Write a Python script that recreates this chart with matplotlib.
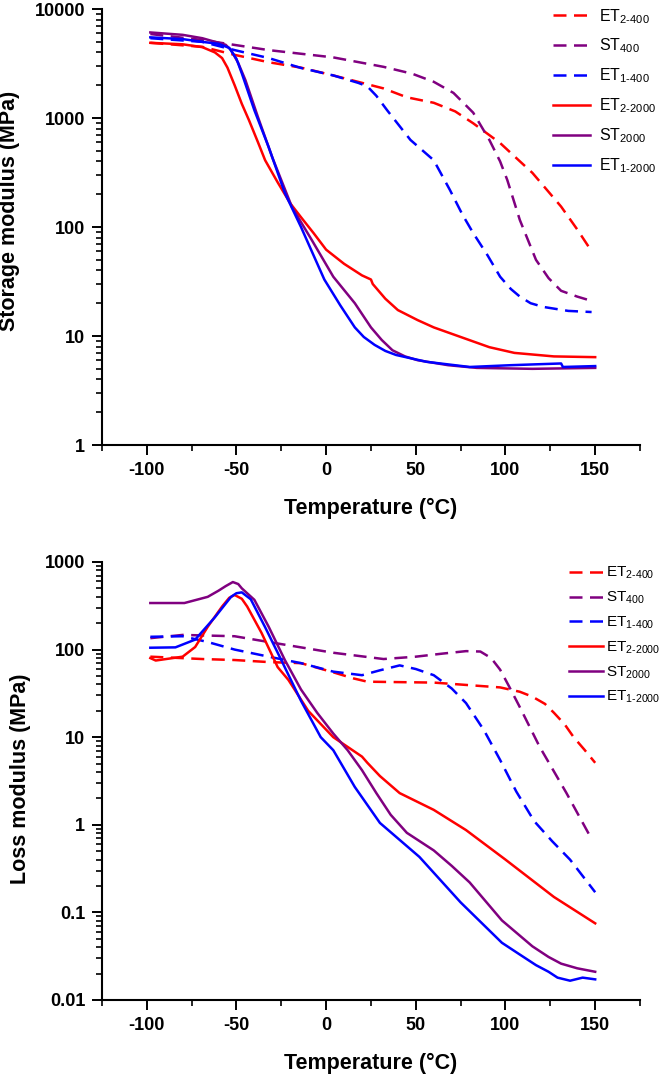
import matplotlib
matplotlib.use("Agg")
import matplotlib.pyplot as plt
from matplotlib import ticker

plt.rcParams['font.family'] = ['Liberation Sans', 'DejaVu Sans']
plt.rcParams['mathtext.fontset'] = 'custom'
plt.rcParams['mathtext.rm'] = 'Liberation Sans'
plt.rcParams['mathtext.it'] = 'Liberation Sans:italic'
plt.rcParams['mathtext.bf'] = 'Liberation Sans:bold'
plt.rcParams['axes.unicode_minus'] = False

# ---- storage modulus (MPa) ----
st_et2_400_t = [-98, -69, -51, -32, -14, 4, 32, 45, 60, 72, 82, 97, 106, 115, 123, 131, 140, 148]
st_et2_400_v = [4900, 4500, 3800, 3250, 2900, 2460, 1870, 1550, 1380, 1150, 895, 590, 430, 314, 220, 154, 95, 60]
st_st400_t = [-98, -69, -32, 4, 32, 48, 60, 71, 82, 91, 97, 101, 108, 117, 124, 131, 140, 148]
st_st400_v = [5900, 5200, 4200, 3600, 2950, 2550, 2150, 1700, 1120, 630, 400, 270, 116, 50, 34, 26, 23, 21]
st_et1_400_t = [-98, -69, -51, -32, -14, 4, 18, 23, 28, 34, 47, 60, 69, 76, 82, 90, 97, 103, 108, 114, 121, 135, 148]
st_et1_400_v = [5400, 5000, 4200, 3550, 2880, 2460, 2100, 1950, 1600, 1180, 630, 410, 219, 130, 88, 55, 35, 27, 23, 20, 18.5, 17, 16.6]
st_et2_2000_t = [-98, -80, -69, -62, -58, -55, -51, -47, -43, -38, -34, -27, -20, -14, -7, 0, 10, 20, 25, 26, 33, 40, 51, 60, 75, 91, 105, 127, 150]
st_et2_2000_v = [4900, 4750, 4470, 4000, 3550, 2900, 2000, 1350, 955, 600, 410, 257, 165, 123, 88, 62, 46, 36, 33, 30, 22, 17.3, 14, 12, 9.8, 7.9, 7.0, 6.5, 6.4]
st_st2000_t = [-98, -80, -69, -60, -56, -53, -49, -45, -38, -30, -19, -8, 4, 16, 25, 31, 37, 44, 51, 68, 84, 115, 150]
st_st2000_v = [6100, 5800, 5400, 4900, 4700, 4200, 3200, 2230, 1020, 435, 152, 76, 35, 20, 12, 9.2, 7.4, 6.5, 6.0, 5.4, 5.1, 5.0, 5.1]
st_et1_2000_t = [-98, -80, -69, -60, -54, -50, -47, -40, -32, -23, -14, -7, -1, 8, 16, 21, 27, 33, 39, 56, 80, 103, 117, 131, 132, 150]
st_et1_2000_v = [5500, 5300, 5000, 4800, 4400, 3500, 2570, 1180, 540, 205, 100, 55, 33, 19, 12, 9.8, 8.3, 7.3, 6.7, 5.8, 5.2, 5.4, 5.5, 5.6, 5.2, 5.3]

# ---- loss modulus (MPa) ----
lo_et2_400_t = [-98, -69, -51, -32, -14, 4, 15, 23, 60, 97, 108, 115, 122, 127, 133, 138, 144, 150]
lo_et2_400_v = [83, 78, 76, 72, 70, 55, 47, 43, 42, 37, 33, 29, 24, 19, 14, 10, 7.2, 5.1]
lo_st400_t = [-98, -80, -51, -32, 4, 32, 50, 65, 78, 86, 92, 97, 102, 108, 119, 134, 147]
lo_st400_v = [135, 147, 142, 122, 92, 78, 83, 90, 96, 95, 80, 59, 38, 22, 7.8, 2.3, 0.75]
lo_et1_400_t = [-98, -80, -66, -51, -32, -14, 4, 20, 30, 41, 50, 60, 70, 78, 88, 97, 106, 116, 126, 136, 150]
lo_et1_400_v = [140, 142, 122, 100, 83, 70, 56, 51, 58, 66, 60, 51, 36, 24.5, 12, 5.5, 2.4, 1.1, 0.65, 0.4, 0.17]
lo_et2_2000_t = [-98, -95, -80, -73, -66, -58, -54, -51, -47, -44, -36, -27, -21, -10, 4, 20, 23, 30, 41, 60, 78, 100, 127, 150]
lo_et2_2000_v = [80, 75, 83, 107, 182, 310, 390, 420, 380, 310, 155, 63, 45, 20, 10, 6.0, 5.1, 3.6, 2.3, 1.48, 0.87, 0.40, 0.15, 0.075]
lo_st2000_t = [-98, -79, -66, -60, -56, -52, -49, -47, -40, -32, -23, -14, -5, 4, 12, 20, 28, 36, 45, 60, 70, 80, 98, 115, 124, 131, 140, 150]
lo_st2000_v = [340, 340, 400, 470, 530, 590, 560, 500, 370, 182, 76, 35, 19, 11, 7.1, 4.2, 2.3, 1.3, 0.81, 0.51, 0.34, 0.22, 0.081, 0.041, 0.031, 0.026, 0.023, 0.021]
lo_et1_2000_t = [-98, -84, -73, -62, -53, -50, -47, -42, -34, -25, -14, -3, 4, 16, 30, 52, 75, 98, 108, 117, 124, 129, 136, 143, 150]
lo_et1_2000_v = [105, 106, 130, 234, 400, 440, 450, 375, 180, 76, 26, 10, 7.1, 2.7, 1.05, 0.43, 0.13, 0.045, 0.033, 0.025, 0.021, 0.018, 0.0166, 0.018, 0.0172]

labels = [r'ET$_{2\text{-}400}$', r'ST$_{400}$', r'ET$_{1\text{-}400}$',
          r'ET$_{2\text{-}2000}$', r'ST$_{2000}$', r'ET$_{1\text{-}2000}$']
colors = ['#ff0000', '#800080', '#0000ff', '#ff0000', '#800080', '#0000ff']
styles = [(0, (5.2, 3)), (0, (5.2, 3)), (0, (5.2, 3)), '-', '-', '-']

storage = [(st_et2_400_t, st_et2_400_v), (st_st400_t, st_st400_v), (st_et1_400_t, st_et1_400_v),
           (st_et2_2000_t, st_et2_2000_v), (st_st2000_t, st_st2000_v), (st_et1_2000_t, st_et1_2000_v)]
loss = [(lo_et2_400_t, lo_et2_400_v), (lo_st400_t, lo_st400_v), (lo_et1_400_t, lo_et1_400_v),
        (lo_et2_2000_t, lo_et2_2000_v), (lo_st2000_t, lo_st2000_v), (lo_et1_2000_t, lo_et1_2000_v)]

fig = plt.figure(figsize=(6.66, 10.77), dpi=100)
ax1 = fig.add_axes([0.153, 0.5868, 0.808, 0.4048])
ax2 = fig.add_axes([0.153, 0.0715, 0.808, 0.4067])


def style_axis(ax, ylim, ylabel, ylab_pos):
    ax.set_yscale('log')
    ax.set_ylim(*ylim)
    ax.set_xlim(-125, 175)
    ax.set_xticks([-100, -50, 0, 50, 100, 150])
    ax.xaxis.set_minor_locator(ticker.MultipleLocator(25))
    ax.yaxis.set_major_formatter(ticker.FuncFormatter(lambda v, _: f'{v:g}'))
    ax.yaxis.set_minor_formatter(ticker.NullFormatter())
    for s in ['top', 'right']:
        ax.spines[s].set_visible(False)
    for s in ['left', 'bottom']:
        ax.spines[s].set_linewidth(1.5)
    ax.tick_params(which='major', direction='out', length=7, width=1.4,
                   labelsize=13, pad=5)
    ax.tick_params(which='minor', direction='out', length=4, width=1.2)
    for lab in ax.get_xticklabels() + ax.get_yticklabels():
        lab.set_fontweight('bold')
    ax.set_xlabel('Temperature (°C)', fontsize=15.5, fontweight='bold', labelpad=14)
    ax.set_ylabel(ylabel, fontsize=15.5, fontweight='bold')
    ax.yaxis.set_label_coords(*ylab_pos)


for ax, data in [(ax1, storage), (ax2, loss)]:
    for (t, v), c, ls, lab in zip(data, colors, styles, labels):
        ax.plot(t, v, color=c, linestyle=ls, linewidth=1.8, label=lab)

style_axis(ax1, (1, 10000), 'Storage modulus (MPa)', (-0.152, 0.537))
style_axis(ax2, (0.01, 1000), 'Loss modulus (MPa)', (-0.132, 0.505))

ax1.legend(loc='upper left', bbox_to_anchor=(0.838, 1.005), frameon=False,
           fontsize=11.5, handlelength=2.3, handletextpad=0.6, labelspacing=0.7,
           borderaxespad=0, borderpad=0)
ax2.legend(loc='upper left', bbox_to_anchor=(0.868, 0.993), frameon=False,
           fontsize=11, handlelength=2.2, handletextpad=0.2, labelspacing=0.55,
           borderaxespad=0, borderpad=0)

fig.savefig('out.png', dpi=100)
